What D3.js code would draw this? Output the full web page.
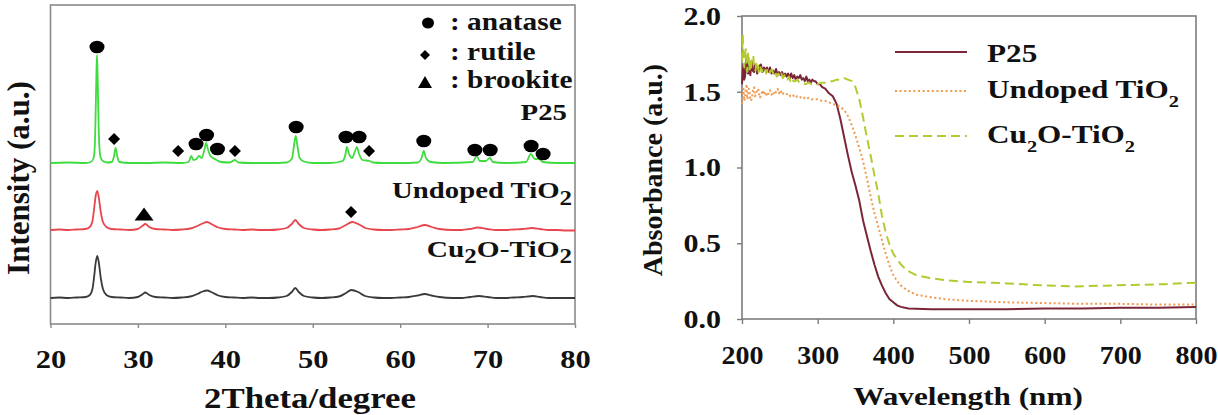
<!DOCTYPE html>
<html><head><meta charset="utf-8">
<script src="https://cdn.jsdelivr.net/npm/d3@7"></script>
<style>
body{margin:0;background:#fff}
svg{display:block}
text{font-family:"Liberation Serif","Times New Roman",serif;font-weight:bold;fill:#111}
</style>
</head><body>
<svg id="c" width="1218" height="415"></svg>
<script>
// ---------- Left panel: XRD ----------
const xrdTicks = [20,30,40,50,60,70,80];
const p25XRD = [[20,161],[22,161.5],[24,161],[24.6,162],[24.9,165],[25.05,175],[25.15,205],[25.25,250],[25.32,269],[25.4,245],[25.5,200],[25.6,176],[25.75,166],[26.0,163],[26.5,161.5],[27.0,162],[27.25,167],[27.45,176],[27.65,167],[27.9,162],[29,161],[31,161],[33,161.5],[35,161],[35.8,162],[36.1,168],[36.35,164],[36.7,165],[37.0,168],[37.3,166],[37.6,174],[37.8,181],[38.0,175],[38.3,168],[38.6,166],[39.0,164],[39.5,162],[40.5,161.5],[41.1,164],[41.5,161.5],[43,161],[45,161],[47,161.5],[47.6,165],[47.85,178],[48.05,188],[48.25,178],[48.5,166],[49,162.5],[50,161],[52,161],[53.4,163],[53.75,170],[53.9,177],[54.15,170],[54.5,166],[54.8,172],[55.05,177],[55.3,170],[55.7,164],[56.5,163],[56.9,161.5],[58,161],[60,161],[62,161.5],[62.45,166],[62.7,173],[62.95,166],[63.5,162],[65,161],[68.3,162],[68.75,168],[69.1,163],[69.8,163],[70.25,166],[70.6,162],[72,161],[74.4,162],[74.95,170],[75.4,165],[75.9,165],[76.3,162],[78,161],[80,161]];
const undopedXRD = [[20,94],[21,94.5],[22,94],[23,94.5],[24,95],[24.5,97],[24.8,103],[25.0,116],[25.15,127],[25.35,133],[25.55,125],[25.75,112],[26.0,102],[26.4,97],[27,95],[28,94.5],[29,94],[30.0,95],[30.5,98],[30.85,100],[31.3,97],[32,95],[33,94.5],[34,94],[35,94.5],[36,95.5],[36.8,98],[37.4,100.5],[37.9,102],[38.5,99.5],[39.2,96.5],[40,95],[41,94.5],[42,94],[43,94.5],[44,94],[45,94],[46,94.5],[47,96],[47.6,100],[48.0,104],[48.4,100],[49,96],[50,94.5],[51,94],[52,94.5],[53,95.5],[53.8,99],[54.5,102],[55.2,100],[56,96],[57,94.5],[58,94],[59,94],[60,94.5],[61,95],[62,97],[62.8,99],[63.6,97],[64.5,95],[66,94],[67,94],[68,95],[68.9,96.5],[70,95],[71,94],[72,94],[73,94.5],[74,95],[75.1,96],[76,95],[77,94],[78,94],[79,93.5],[80,93.5]];
const cu2oXRD = [[20,26],[21,26.5],[22,26],[23,26.5],[24,27],[24.5,29],[24.8,35],[25.0,48],[25.15,60],[25.35,68],[25.55,60],[25.75,46],[26.0,35],[26.4,29],[27,27],[28,26.5],[29,26],[30.0,27],[30.5,29.5],[30.85,31.5],[31.3,29],[32,27],[33,26.5],[34,26],[35,26.5],[36,27.5],[36.8,30],[37.4,32.5],[37.9,33.5],[38.5,31.5],[39.2,28.5],[40,27],[41,26.5],[42,26],[43,26.5],[44,26],[45,26],[46,26.5],[47,28],[47.6,32],[48.0,36],[48.4,32],[49,28],[50,26.5],[51,26],[52,26.5],[53,27.5],[53.8,31],[54.4,34],[55.2,32],[56,28],[57,26.5],[58,26],[59,26],[60,26.5],[61,27],[62,28.5],[62.8,30],[63.6,28.5],[64.5,27],[66,26],[67,26],[68,27],[69,28],[70,27],[71,26],[72,26],[73,26.5],[74,27],[75.2,28],[76,27],[77,26],[78,26],[79,26],[80,26]];
const anataseMarks = [[25.32,277],[36.65,180],[37.85,189],[39.1,175],[48.1,197],[53.8,187],[55.3,187],[62.7,183],[68.55,174],[70.3,174],[74.98,178],[76.35,170]];
const rutileMarks = [[27.27,185],[34.6,173],[41.1,173],[56.44,173],[54.38,112]];
const brookiteMarks = [[30.7,110]];
const phaseLegend = [["circle",": anatase"],["diamond",": rutile"],["triangle",": brookite"]];
const xrdSeriesNames = ["P25","Undoped TiO|2","Cu|2|O-TiO|2"];

// ---------- Right panel: UV-vis ----------
const uvTicksX = [200,300,400,500,600,700,800];
const uvTicksY = [0,0.5,1.0,1.5,2.0];
const p25UV = [[200,1.55],[201,1.64],[202,1.68],[203,1.58],[204,1.60],[205,1.69],[206,1.72],[207,1.63],[208,1.62],[209,1.68],[210,1.66],[211,1.61],[212,1.67],[213,1.70],[214,1.64],[216,1.63],[217,1.68],[219,1.67],[220,1.62],[222,1.64],[223,1.67],[225,1.68],[227,1.63],[229,1.66],[231,1.64],[233,1.66],[235,1.63],[237,1.66],[239,1.62],[241,1.64],[243,1.62],[245,1.65],[247,1.61],[249,1.63],[251,1.61],[253,1.63],[255,1.60],[257,1.62],[259,1.60],[261,1.62],[263,1.59],[265,1.62],[267,1.59],[269,1.61],[271,1.58],[273,1.60],[275,1.59],[277,1.61],[279,1.58],[281,1.59],[283,1.57],[285,1.60],[287,1.57],[289,1.58],[291,1.56],[293,1.58],[295,1.57],[297,1.57],[300,1.55],[303,1.55],[306,1.53],[310,1.52],[315,1.49],[320,1.47],[325,1.42],[330,1.32],[335,1.20],[340,1.08],[345,0.97],[350,0.88],[355,0.78],[360,0.65],[365,0.55],[370,0.45],[375,0.36],[380,0.28],[385,0.22],[390,0.17],[395,0.13],[400,0.11],[405,0.09],[410,0.08],[420,0.07],[450,0.065],[500,0.065],[550,0.065],[600,0.07],[650,0.07],[700,0.075],[750,0.075],[800,0.08]];
const undopedUV = [[200,1.42],[201,1.48],[202,1.52],[203,1.44],[204,1.46],[205,1.51],[206,1.55],[207,1.45],[208,1.47],[209,1.52],[210,1.50],[211,1.44],[213,1.45],[214,1.50],[216,1.53],[217,1.47],[219,1.48],[220,1.52],[222,1.51],[223,1.46],[225,1.47],[227,1.51],[229,1.48],[231,1.50],[233,1.47],[235,1.49],[237,1.51],[239,1.48],[241,1.50],[243,1.48],[245,1.50],[247,1.52],[249,1.49],[251,1.51],[253,1.48],[255,1.49],[258,1.48],[261,1.49],[264,1.47],[267,1.48],[270,1.46],[273,1.47],[276,1.46],[280,1.47],[284,1.45],[288,1.46],[292,1.45],[296,1.45],[300,1.45],[305,1.44],[310,1.44],[315,1.43],[320,1.42],[325,1.41],[330,1.40],[335,1.38],[340,1.34],[345,1.28],[350,1.21],[355,1.13],[360,1.04],[365,0.93],[370,0.81],[375,0.70],[380,0.61],[385,0.52],[390,0.43],[395,0.35],[400,0.29],[405,0.25],[410,0.22],[418,0.19],[430,0.16],[448,0.145],[470,0.13],[500,0.12],[550,0.11],[600,0.105],[650,0.10],[700,0.10],[750,0.095],[800,0.095]];
const cu2oUV = [[200,1.70],[201,1.88],[202,1.72],[203,1.66],[204,1.74],[205,1.78],[206,1.65],[207,1.63],[208,1.76],[209,1.72],[210,1.64],[211,1.70],[212,1.66],[213,1.72],[215,1.74],[216,1.65],[218,1.64],[219,1.70],[221,1.68],[222,1.63],[224,1.67],[226,1.63],[228,1.66],[230,1.66],[232,1.62],[234,1.65],[236,1.62],[238,1.64],[240,1.64],[242,1.61],[244,1.63],[246,1.60],[248,1.62],[250,1.60],[252,1.62],[254,1.59],[256,1.61],[258,1.58],[260,1.58],[262,1.60],[264,1.57],[266,1.59],[268,1.57],[270,1.57],[273,1.58],[276,1.56],[280,1.56],[284,1.55],[288,1.56],[292,1.55],[296,1.55],[300,1.55],[305,1.56],[310,1.56],[315,1.57],[320,1.57],[325,1.58],[330,1.58],[335,1.59],[340,1.58],[345,1.57],[350,1.53],[355,1.45],[360,1.33],[365,1.20],[370,1.08],[375,0.95],[380,0.83],[385,0.68],[390,0.57],[395,0.49],[400,0.43],[410,0.36],[418,0.32],[430,0.29],[448,0.27],[470,0.255],[500,0.245],[550,0.235],[585,0.225],[637,0.215],[680,0.22],[717,0.225],[760,0.23],[800,0.24]];
const uvSeriesNames = ["P25","Undoped TiO|2","Cu|2|O-TiO|2"];

// ---------- drawing ----------
const svg = d3.select("#c");
const SERIF = '"Liberation Serif","Times New Roman",serif';

function label(parent, x, y, str, o) {
  const t = parent.append("text")
    .attr("transform", `translate(${x},${y}) scale(${o.sx||1},1)`)
    .attr("text-anchor", o.anchor || "start")
    .style("font-size", o.size + "px");
  str.split("|").forEach((p, i) => {
    const sub = i % 2 === 1;
    const ts = t.append("tspan").text(p);
    if (sub) ts.style("font-size", o.sub + "px").attr("dy", o.shift);
    else if (i > 0) ts.attr("dy", -o.shift);
  });
  return t;
}

// Left panel
const xL = d3.scaleLinear().domain([20,80]).range([50.5,575]);
const yL = d3.scaleLinear().domain([0,319]).range([324,5]);
const gL = svg.append("g");

gL.append("rect")
  .attr("x", xL(20)).attr("y", yL(319))
  .attr("width", xL(80)-xL(20)).attr("height", yL(0)-yL(319))
  .attr("fill","none").attr("stroke","#8a8a8a").attr("stroke-width",1.6);

const axL = gL.append("g").attr("transform",`translate(0,${yL(0)})`)
  .call(d3.axisBottom(xL).tickValues(xrdTicks).tickSize(4).tickSizeOuter(0));
axL.attr("font-family", null).attr("font-size", null);
axL.select(".domain").remove();
axL.selectAll("line").attr("stroke","#8a8a8a").attr("stroke-width",1.4);
axL.selectAll("text").attr("y",44.5).attr("dy",null)
  .attr("transform","scale(1.22,1)").style("font-size","25px").attr("fill","#111")
  .style("font-family",SERIF);

const lineL = d3.line().x(d=>xL(d[0])).y(d=>yL(d[1])).curve(d3.curveMonotoneX);
[[p25XRD,"#3fdc3f"],[undopedXRD,"#e8464e"],[cu2oXRD,"#3a3a3a"]].forEach(([d,c])=>{
  gL.append("path").datum(d).attr("d",lineL).attr("fill","none")
    .attr("stroke",c).attr("stroke-width",1.8).attr("stroke-linejoin","round");
});

const diamond = s => `M0,${-s}L${s},0L0,${s}L${-s},0Z`;
const tri = (w,h) => `M0,${-h/2}L${w/2},${h/2}L${-w/2},${h/2}Z`;

gL.selectAll(".an").data(anataseMarks).join("ellipse")
  .attr("cx",d=>xL(d[0])).attr("cy",d=>yL(d[1])).attr("rx",7.5).attr("ry",6.3).attr("fill","#000");
gL.selectAll(".ru").data(rutileMarks).join("path")
  .attr("transform",d=>`translate(${xL(d[0])},${yL(d[1])})`).attr("d",diamond(6)).attr("fill","#000");
gL.selectAll(".br").data(brookiteMarks).join("path")
  .attr("transform",d=>`translate(${xL(d[0])},${yL(d[1])})`).attr("d",tri(19,13)).attr("fill","#000");

const legRowsY = [30,60,88];
phaseLegend.forEach(([sym,txt],i)=>{
  const cy = legRowsY[i]-7;
  if (sym==="circle") gL.append("ellipse").attr("cx",428).attr("cy",cy).attr("rx",6).attr("ry",5.5).attr("fill","#000");
  if (sym==="diamond") gL.append("path").attr("transform",`translate(425,${cy+2})`).attr("d",diamond(5)).attr("fill","#000");
  if (sym==="triangle") gL.append("path").attr("transform",`translate(425,${cy+1})`).attr("d",tri(14,12)).attr("fill","#000");
  label(gL, 450, legRowsY[i], txt, {size:26, sx:1.13});
});
label(gL, 567, 120, xrdSeriesNames[0], {size:24, sx:1.2, anchor:"end"});
label(gL, 572, 198, xrdSeriesNames[1], {size:23, sx:1.25, anchor:"end", sub:20, shift:7});
label(gL, 572, 257, xrdSeriesNames[2], {size:23.5, sx:1.25, anchor:"end", sub:20, shift:6});

label(gL, 310, 408, "2Theta/degree", {size:29, sx:1.2, anchor:"middle"});
gL.append("text").attr("transform","translate(29,178) rotate(-90)")
  .attr("text-anchor","middle").style("font-size","31px").text("Intensity (a.u.)");

// Right panel
const xR = d3.scaleLinear().domain([200,800]).range([742,1196]);
const yR = d3.scaleLinear().domain([0,2]).range([319,16]);
const gR = svg.append("g");

gR.append("rect")
  .attr("x", xR(200)).attr("y", yR(2))
  .attr("width", xR(800)-xR(200)).attr("height", yR(0)-yR(2))
  .attr("fill","none").attr("stroke","#7c7c7c").attr("stroke-width",1.6);

const axRx = gR.append("g").attr("transform",`translate(0,${yR(0)})`)
  .call(d3.axisBottom(xR).tickValues(uvTicksX).tickSize(5).tickSizeOuter(0));
axRx.attr("font-family", null).attr("font-size", null);
axRx.select(".domain").remove();
axRx.selectAll("line").attr("stroke","#7c7c7c").attr("stroke-width",1.4);
axRx.selectAll("text").attr("y",45).attr("dy",null)
  .attr("transform","scale(1.1,1)").style("font-size","25.5px").attr("fill","#111")
  .style("font-family",SERIF);

const axRy = gR.append("g").attr("transform",`translate(${xR(200)},0)`)
  .call(d3.axisLeft(yR).tickValues(uvTicksY).tickFormat(d3.format(".1f")).tickSize(5).tickSizeOuter(0));
axRy.attr("font-family", null).attr("font-size", null);
axRy.select(".domain").remove();
axRy.selectAll("line").attr("stroke","#7c7c7c").attr("stroke-width",1.4);
axRy.selectAll("text").attr("x",-21/1.2).attr("y",8.4).attr("dy",null)
  .attr("transform","scale(1.2,1)").style("font-size","25px").attr("fill","#111")
  .style("font-family",SERIF);

const lineR = d3.line().x(d=>xR(d[0])).y(d=>yR(d[1]));
const uvStyles = [
  {data:p25UV, c:"#7a2638", dash:null, w:2},
  {data:undopedUV, c:"#f09a4e", dash:"2,2.6", w:2},
  {data:cu2oUV, c:"#b6ca30", dash:"9,5", w:2}
];
uvStyles.forEach(s=>{
  gR.append("path").datum(s.data).attr("d",lineR).attr("fill","none")
    .attr("stroke",s.c).attr("stroke-width",s.w).attr("stroke-dasharray",s.dash)
    .attr("stroke-linejoin","round");
});

const legY = [52,91,136], legBase=[62,98,143];
uvStyles.forEach((s,i)=>{
  gR.append("line").attr("x1",895).attr("x2",967).attr("y1",legY[i]).attr("y2",legY[i])
    .attr("stroke",s.c).attr("stroke-width",2).attr("stroke-dasharray",s.dash);
  label(gR, 987, legBase[i], uvSeriesNames[i], {size:26, sx:1.2, sub:17, shift:9});
});

label(gR, 968, 405, "Wavelength (nm)", {size:26, sx:1.2, anchor:"middle"});
gR.append("text").attr("transform","translate(662,170) rotate(-90)")
  .attr("text-anchor","middle").style("font-size","28px").text("Absorbance (a.u.)");
</script>
</body></html>
